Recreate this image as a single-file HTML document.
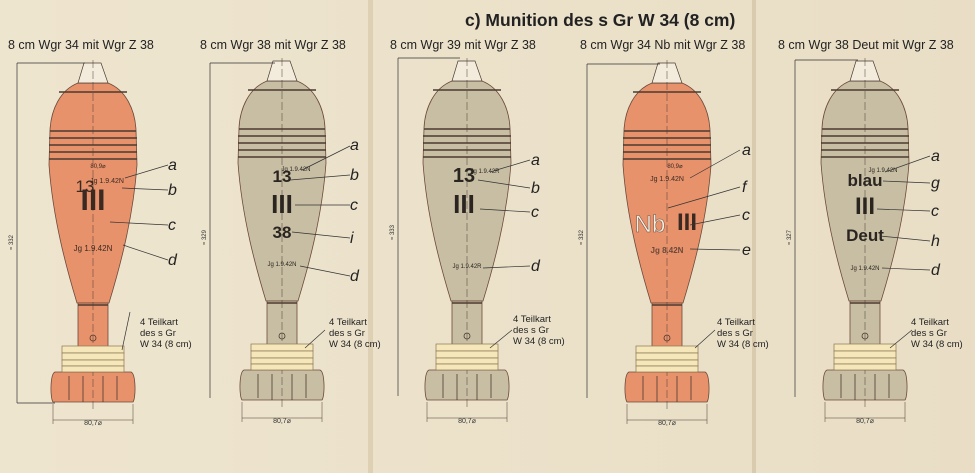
<!DOCTYPE html>
<html><head><meta charset="utf-8"><style>
html,body{margin:0;padding:0;background:#ece2cb;}
svg{display:block;font-family:"Liberation Sans",sans-serif;}
</style></head><body>
<svg width="975" height="473" viewBox="0 0 975 473" xmlns="http://www.w3.org/2000/svg">
<defs>
<linearGradient id="pg" x1="0" x2="1"><stop offset="0" stop-color="#eee5cf"/><stop offset="1" stop-color="#e9dec5"/></linearGradient>
<g id="shell">
  <path d="M-15,83 C-33,90 -42,110 -43,130 L-44,165 C-40,220 -26,270 -16,303 L16,303 C26,270 40,220 44,165 L43,130 C42,110 33,90 15,83 Z" stroke="#6b4a3a" stroke-width="0.8"/>
  <rect x="-15" y="303" width="30" height="47" stroke="#6b4a3a" stroke-width="0.8"/>
  <path d="M-38,372 L38,372 C43,374 43,398 40,402 L-40,402 C-43,398 -43,374 -38,372 Z" stroke="#6b4a3a" stroke-width="0.8"/>
</g>
<g id="details" fill="none" stroke="#4a3a30">
  <polygon points="-9,63 8,63 15,83 -15,83" fill="#f3ecdc" stroke-width="0.7"/>
  <line x1="-34" y1="92" x2="34" y2="92" stroke-width="1.4"/>
  <g stroke-width="1.6"><line x1="-43" y1="131" x2="43" y2="131"/><line x1="-44" y1="138" x2="44" y2="138"/><line x1="-44" y1="145" x2="44" y2="145"/><line x1="-44" y1="152" x2="44" y2="152"/><line x1="-44" y1="159" x2="44" y2="159"/></g>
  <line x1="0" y1="60" x2="0" y2="410" stroke-width="0.5" stroke-dasharray="8,3"/>
  <line x1="-15" y1="305" x2="15" y2="305" stroke-width="1.5"/>
  <circle cx="0" cy="338" r="3" stroke-width="0.8"/>
  <g stroke-width="0.8"><line x1="-24" y1="376" x2="-24" y2="400"/><line x1="-10" y1="376" x2="-10" y2="402"/><line x1="10" y1="376" x2="10" y2="402"/><line x1="24" y1="376" x2="24" y2="400"/></g>
  <g fill="#f6e7bb" stroke="#8a7650" stroke-width="0.7">
    <rect x="-31" y="346" width="62" height="7"/><rect x="-31" y="353" width="62" height="7"/><rect x="-31" y="360" width="62" height="6"/><rect x="-31" y="366" width="62" height="6"/>
  </g>
  <line x1="-40" y1="420" x2="40" y2="420" stroke-width="0.6"/>
  <line x1="-40" y1="404" x2="-40" y2="424" stroke-width="0.5"/><line x1="40" y1="404" x2="40" y2="424" stroke-width="0.5"/>
</g>
</defs>
<rect width="975" height="473" fill="url(#pg)"/>
<rect x="368" y="0" width="5" height="473" fill="#ddd0b3"/>
<rect x="752" y="0" width="4" height="473" fill="#d9cbad"/>
<text x="465" y="26" font-size="17.5" font-weight="bold" fill="#222">c)  Munition des s Gr W 34 (8 cm)</text>

<g font-size="12.5" fill="#222">
<text x="8" y="49">8 cm Wgr 34 mit Wgr Z 38</text>
<text x="200" y="49">8 cm Wgr 38 mit Wgr Z 38</text>
<text x="390" y="49">8 cm Wgr 39 mit Wgr Z 38</text>
<text x="580" y="49">8 cm Wgr 34 Nb mit Wgr Z 38</text>
<text x="778" y="49">8 cm Wgr 38 Deut mit Wgr Z 38</text>
</g>

<!-- shell 1 -->
<g transform="translate(93,0)">
 <use href="#shell" fill="#e8926c"/><use href="#details"/>
 <text x="0" y="210" font-size="30" font-weight="bold" text-anchor="middle" fill="#3a2a22">III</text>
 <text x="-8" y="192" font-size="17" text-anchor="middle" fill="#3a2a22">13</text>
 <text x="14" y="183" font-size="7" text-anchor="middle" fill="#3a2a22">Jg 1.9.42N</text>
 <text x="0" y="251" font-size="8" text-anchor="middle" fill="#3a2a22">Jg 1.9.42N</text>
 <text x="5" y="168" font-size="6" text-anchor="middle" fill="#3a2a22">80,9⌀</text>
 <text x="0" y="425" font-size="7" text-anchor="middle" fill="#333">80,7⌀</text>
</g>
<!-- shell 2 -->
<g transform="translate(282,-2)">
 <use href="#shell" fill="#c8bea3"/><use href="#details"/>
 <text x="0" y="184" font-size="17" font-weight="bold" text-anchor="middle" fill="#2a2520">13</text>
 <text x="0" y="215" font-size="26" font-weight="bold" text-anchor="middle" fill="#2a2520">III</text>
 <text x="0" y="240" font-size="17" font-weight="bold" text-anchor="middle" fill="#2a2520">38</text>
 <text x="14" y="173" font-size="6" text-anchor="middle" fill="#2a2520">Jg 1.9.42N</text>
 <text x="0" y="268" font-size="6" text-anchor="middle" fill="#2a2520">Jg 1.9.42N</text>
 <text x="0" y="425" font-size="7" text-anchor="middle" fill="#333">80,7⌀</text>
</g>
<!-- shell 3 -->
<g transform="translate(467,-2)">
 <use href="#shell" fill="#c8bea3"/><use href="#details"/>
 <text x="-3" y="184" font-size="20" font-weight="bold" text-anchor="middle" fill="#2a2520">13</text>
 <text x="-3" y="215" font-size="26" font-weight="bold" text-anchor="middle" fill="#2a2520">III</text>
 <text x="18" y="175" font-size="6" text-anchor="middle" fill="#2a2520">Jg 1.9.42R</text>
 <text x="0" y="270" font-size="6" text-anchor="middle" fill="#2a2520">Jg 1.9.42R</text>
 <text x="0" y="425" font-size="7" text-anchor="middle" fill="#333">80,7⌀</text>
</g>
<!-- shell 4 -->
<g transform="translate(667,0)">
 <use href="#shell" fill="#e8926c"/><use href="#details"/>
 <text x="-17" y="232" font-size="24" text-anchor="middle" fill="#f6eee3" stroke="#6b4a3a" stroke-width="0.5">Nb</text>
 <text x="20" y="230" font-size="24" font-weight="bold" text-anchor="middle" fill="#3a2a22">III</text>
 <text x="0" y="181" font-size="7" text-anchor="middle" fill="#3a2a22">Jg 1.9.42N</text>
 <text x="0" y="253" font-size="8" font-weight="bold" text-anchor="middle" fill="#6b4a3a">Jg 8.42N</text>
 <text x="8" y="168" font-size="6" text-anchor="middle" fill="#3a2a22">80,9⌀</text>
 <text x="0" y="425" font-size="7" text-anchor="middle" fill="#333">80,7⌀</text>
</g>
<!-- shell 5 -->
<g transform="translate(865,-2)">
 <use href="#shell" fill="#c8bea3"/><use href="#details"/>
 <text x="0" y="188" font-size="17" font-weight="bold" text-anchor="middle" fill="#2a2520">blau</text>
 <text x="0" y="216" font-size="24" font-weight="bold" text-anchor="middle" fill="#2a2520">III</text>
 <text x="0" y="243" font-size="17" font-weight="bold" text-anchor="middle" fill="#2a2520">Deut</text>
 <text x="18" y="174" font-size="6" text-anchor="middle" fill="#2a2520">Jg 1.9.42N</text>
 <text x="0" y="272" font-size="6" text-anchor="middle" fill="#2a2520">Jg 1.9.42N</text>
 <text x="0" y="425" font-size="7" text-anchor="middle" fill="#333">80,7⌀</text>
</g>

<!-- leader lines -->
<g stroke="#333" stroke-width="0.7" fill="none">
 <path d="M125,178 L168,165 M122,188 L168,190 M110,222 L168,225 M123,245 L168,260"/>
 <path d="M302,170 L350,146 M290,180 L350,175 M295,205 L350,205 M292,232 L350,238 M300,266 L350,276"/>
 <path d="M490,172 L530,160 M478,180 L530,188 M480,209 L530,212 M483,268 L530,266"/>
 <path d="M690,178 L740,150 M668,208 L740,187 M690,225 L740,215 M690,249 L740,250"/>
 <path d="M885,172 L930,156 M883,181 L930,183 M877,209 L930,211 M880,236 L930,241 M882,268 L930,270"/>
 <path d="M17,63 L17,403 M17,63 L85,63 M17,403 L55,403"/>
 <path d="M210,63 L210,398 M210,63 L275,63"/>
 <path d="M398,58 L398,396 M398,58 L460,58"/>
 <path d="M587,64 L587,398 M587,64 L660,64"/>
 <path d="M795,60 L795,397 M795,60 L858,60"/>
 <path d="M130,312 L122,350 M325,330 L305,348 M512,330 L490,348 M715,330 L695,348 M912,330 L890,348"/>
</g>
<g font-size="6" fill="#333">
 <text transform="translate(13,250) rotate(-90)">≈ 332</text>
 <text transform="translate(206,245) rotate(-90)">≈ 329</text>
 <text transform="translate(394,240) rotate(-90)">≈ 333</text>
 <text transform="translate(583,245) rotate(-90)">≈ 332</text>
 <text transform="translate(791,245) rotate(-90)">≈ 327</text>
</g>
<g font-size="16" font-style="italic" fill="#222">
 <text x="168" y="170">a</text><text x="168" y="195">b</text><text x="168" y="230">c</text><text x="168" y="265">d</text>
 <text x="350" y="150">a</text><text x="350" y="180">b</text><text x="350" y="210">c</text><text x="350" y="243">i</text><text x="350" y="281">d</text>
 <text x="531" y="165">a</text><text x="531" y="193">b</text><text x="531" y="217">c</text><text x="531" y="271">d</text>
 <text x="742" y="155">a</text><text x="742" y="192">f</text><text x="742" y="220">c</text><text x="742" y="255">e</text>
 <text x="931" y="161">a</text><text x="931" y="188">g</text><text x="931" y="216">c</text><text x="931" y="246">h</text><text x="931" y="275">d</text>
</g>
<g font-size="9.5" fill="#222">
 <text x="140" y="325">4 Teilkart</text><text x="140" y="336">des s Gr</text><text x="140" y="347">W 34 (8 cm)</text>
 <text x="329" y="325">4 Teilkart</text><text x="329" y="336">des s Gr</text><text x="329" y="347">W 34 (8 cm)</text>
 <text x="513" y="322">4 Teilkart</text><text x="513" y="333">des s Gr</text><text x="513" y="344">W 34 (8 cm)</text>
 <text x="717" y="325">4 Teilkart</text><text x="717" y="336">des s Gr</text><text x="717" y="347">W 34 (8 cm)</text>
 <text x="911" y="325">4 Teilkart</text><text x="911" y="336">des s Gr</text><text x="911" y="347">W 34 (8 cm)</text>
</g>
</svg>
</body></html>
